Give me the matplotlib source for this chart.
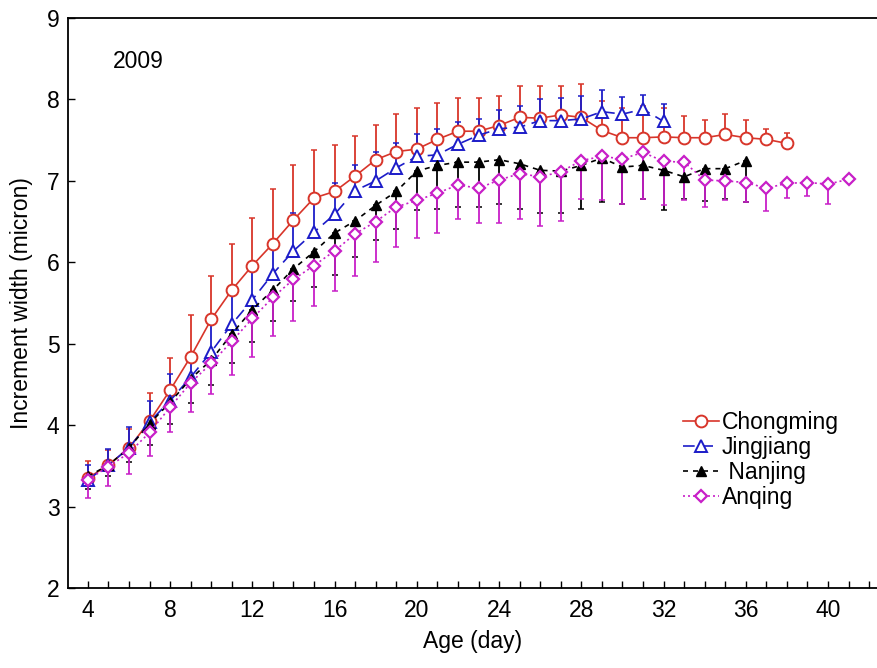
import numpy as np
import matplotlib.pyplot as plt
from matplotlib.ticker import MultipleLocator, FixedLocator

plt.rcParams['font.family'] = ['Liberation Sans', 'DejaVu Sans']

# Chongming: ages 4-38, means and upper error ends
cm_age = list(range(4, 39))
cm_mean = [3.35, 3.51, 3.72, 4.05, 4.43, 4.84, 5.30, 5.66, 5.96, 6.23, 6.52, 6.79,
           6.87, 7.06, 7.26, 7.36, 7.39, 7.51, 7.61, 7.61, 7.68, 7.78, 7.77, 7.81,
           7.78, 7.62, 7.53, 7.53, 7.54, 7.53, 7.53, 7.57, 7.53, 7.51, 7.46]
cm_top = [3.56, 3.70, 3.95, 4.40, 4.82, 5.35, 5.83, 6.23, 6.54, 6.90, 7.19, 7.38,
          7.44, 7.55, 7.69, 7.82, 7.89, 7.96, 8.02, 8.02, 8.04, 8.17, 8.17, 8.17,
          8.19, 7.98, 7.90, 7.92, 7.90, 7.80, 7.75, 7.82, 7.75, 7.64, 7.59]

# Jingjiang: ages 4-32
jj_age = list(range(4, 33))
jj_mean = [3.33, 3.51, 3.72, 4.04, 4.30, 4.59, 4.90, 5.24, 5.54, 5.86, 6.14, 6.37,
           6.59, 6.88, 7.00, 7.16, 7.30, 7.32, 7.45, 7.56, 7.64, 7.66, 7.74, 7.74,
           7.76, 7.85, 7.82, 7.88, 7.73]
jj_top = [3.51, 3.71, 3.98, 4.30, 4.63, 4.88, 5.29, 5.63, 5.96, 6.23, 6.61, 6.82,
          6.98, 7.19, 7.35, 7.47, 7.58, 7.64, 7.72, 7.76, 7.87, 7.92, 8.01, 8.02,
          8.04, 8.11, 8.03, 8.06, 7.95]

# Nanjing: ages 4-36, means and lower error ends
nj_age = list(range(4, 37))
nj_mean = [3.37, 3.51, 3.72, 4.02, 4.28, 4.57, 4.80, 5.12, 5.42, 5.66, 5.92, 6.13,
           6.36, 6.51, 6.70, 6.87, 7.12, 7.19, 7.23, 7.23, 7.26, 7.21, 7.13, 7.12,
           7.19, 7.28, 7.17, 7.19, 7.13, 7.05, 7.15, 7.15, 7.25]
nj_low = [3.22, 3.38, 3.55, 3.75, 4.02, 4.27, 4.49, 4.76, 5.02, 5.28, 5.53, 5.70,
          5.84, 6.06, 6.27, 6.41, 6.64, 6.66, 6.68, 6.68, 6.71, 6.66, 6.61, 6.61,
          6.66, 6.74, 6.72, 6.78, 6.64, 6.78, 6.75, 6.78, 6.74]

# Anqing: ages 4-41
aq_age = list(range(4, 42))
aq_mean = [3.33, 3.49, 3.66, 3.91, 4.22, 4.52, 4.76, 5.03, 5.31, 5.57, 5.79, 5.96,
           6.14, 6.35, 6.50, 6.68, 6.76, 6.85, 6.95, 6.91, 7.01, 7.09, 7.05, 7.11,
           7.25, 7.30, 7.27, 7.35, 7.24, 7.23, 7.01, 7.00, 6.98, 6.91, 6.97, 6.98,
           6.96, 7.02]
aq_low = [3.11, 3.25, 3.40, 3.62, 3.92, 4.16, 4.38, 4.61, 4.84, 5.10, 5.28, 5.46,
          5.65, 5.83, 6.00, 6.19, 6.30, 6.36, 6.53, 6.48, 6.48, 6.53, 6.44, 6.51,
          6.78, 6.76, 6.72, 6.78, 6.70, 6.76, 6.68, 6.77, 6.74, 6.63, 6.79, 6.82,
          6.71, 7.02]

red = '#d8352a'
blue = '#1c1cc8'
magenta = '#c81fc8'
fs = 16.5

fig = plt.figure(figsize=(8.78, 6.68), dpi=100)
ax = fig.add_axes([0.0774, 0.1198, 0.9226, 0.8532])

def up_err(mean, top):
    m = np.array(mean)
    return [np.zeros_like(m), np.array(top) - m]

def down_err(mean, low):
    m = np.array(mean)
    return [m - np.array(low), np.zeros_like(m)]

ekw = dict(fmt='none', elinewidth=1.3, capsize=2.5, capthick=1.1)

# error bars (one-sided)
ax.errorbar(cm_age, cm_mean, yerr=up_err(cm_mean, cm_top), ecolor=red, zorder=2, **ekw)
ax.errorbar(jj_age, jj_mean, yerr=up_err(jj_mean, jj_top), ecolor=blue, zorder=2, **ekw)
ax.errorbar(nj_age, nj_mean, yerr=down_err(nj_mean, nj_low), ecolor='black', zorder=2, **ekw)
ax.errorbar(aq_age, aq_mean, yerr=down_err(aq_mean, aq_low), ecolor=magenta, zorder=2, **ekw)

# lines with markers
ax.plot(cm_age, cm_mean, '-', color=red, lw=1.2, marker='o', ms=8.5,
        mfc='white', mec=red, mew=1.4, label='Chongming', zorder=3)
ax.plot(jj_age, jj_mean, color=blue, lw=1.2, dashes=(7, 4), marker='^', ms=8.5,
        mfc='white', mec=blue, mew=1.4, label='Jingjiang', zorder=3)
ax.plot(nj_age, nj_mean, color='black', lw=1.2, dashes=(3, 3), marker='^', ms=7,
        mfc='black', mec='black', label=' Nanjing', zorder=3)
ax.plot(aq_age, aq_mean, color=magenta, lw=1.2, dashes=(1.2, 1.8), marker='D', ms=6.5,
        mfc='white', mec=magenta, mew=1.6, label='Anqing', zorder=4)

ax.set_xlim(3.03, 42.43)
ax.set_ylim(2, 9)
ax.xaxis.set_major_locator(FixedLocator(range(4, 41, 4)))
ax.xaxis.set_minor_locator(MultipleLocator(1))
ax.yaxis.set_major_locator(MultipleLocator(1))
ax.tick_params(axis='both', which='both', direction='in', length=5, width=1,
               labelsize=fs, top=False, right=False)
ax.tick_params(axis='x', pad=8)
ax.tick_params(axis='y', pad=6)
ax.spines['right'].set_visible(False)
for s in ['left', 'bottom', 'top']:
    ax.spines[s].set_linewidth(1.3)

ax.set_xlabel('Age (day)', fontsize=fs, labelpad=6)
ax.set_ylabel('Increment width (micron)', fontsize=fs, labelpad=10)
ax.text(0.055, 0.923, '2009', transform=ax.transAxes, fontsize=fs, va='center')

ax.legend(loc='upper left', bbox_to_anchor=(0.759, 0.31), frameon=False,
          fontsize=fs, handlelength=1.6, handletextpad=0.1, labelspacing=0.08,
          borderpad=0.0, borderaxespad=0.0)

fig.savefig('out.png', dpi=100)
